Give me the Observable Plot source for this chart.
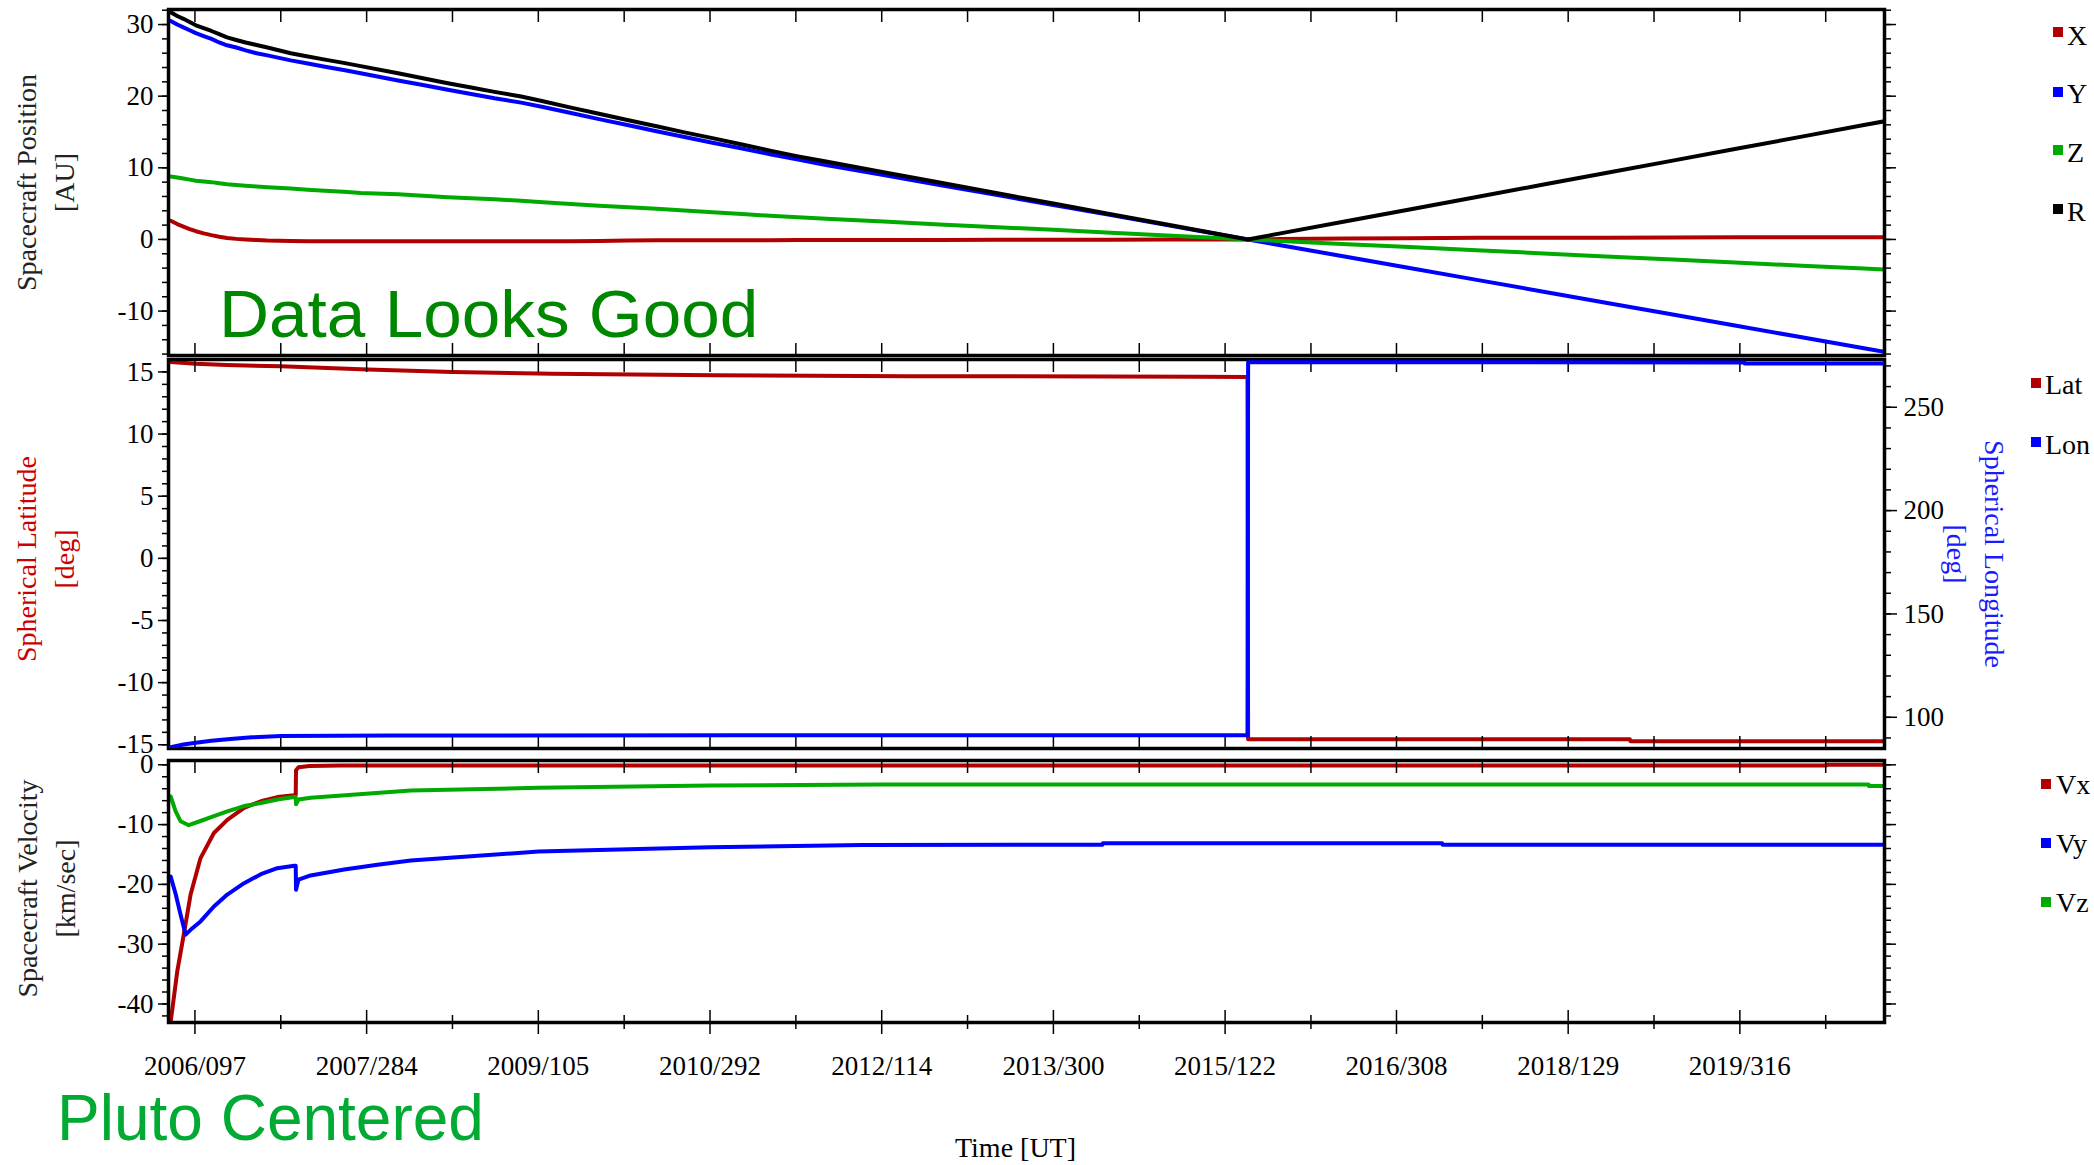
<!DOCTYPE html>
<html>
<head>
<meta charset="utf-8">
<script src="https://cdn.jsdelivr.net/npm/d3@7"></script>
<script src="https://cdn.jsdelivr.net/npm/@observablehq/plot@0.6"></script>
<style>
html, body { margin: 0; padding: 0; background: #fff; }
#chart { position: relative; width: 2094px; height: 1165px; overflow: hidden; font-family: "Liberation Serif", "Times New Roman", serif; }
.panel { position: absolute; left: 0; }
.panel svg { background: transparent !important; overflow: visible; display: block; max-width: none !important; }
.lg { position: absolute; font-size: 28px; line-height: 28px; color: #000; white-space: nowrap; }
.sw { position: absolute; width: 10px; height: 10px; }
.big { position: absolute; font-family: "Liberation Sans", Arial, sans-serif; line-height: 1; white-space: nowrap; transform-origin: left center; }
</style>
</head>
<body>
<div id="chart">
  <div id="p1" class="panel" style="top:0px"></div>
  <div id="p2" class="panel" style="top:356px"></div>
  <div id="p2b" class="panel" style="top:356px"></div>
  <div id="p3" class="panel" style="top:752px"></div>
</div>
<script>
// ---------------- DATA ----------------
// Time axis (UT, YYYY/DOY)
const timeDomain = ["2006/012", "2021/050"];
const timeTickLabels = ["2006/097", "2007/284", "2009/105", "2010/292", "2012/114", "2013/300", "2015/122", "2016/308", "2018/129", "2019/316"];
const timeMinorTicks = ["2007/008", "2008/195", "2010/016", "2011/203", "2013/024", "2014/211", "2016/033", "2017/218", "2019/040", "2020/227"];

// Panel 1: Spacecraft Position [AU]
const positionDates = ["2006/019","2006/040","2006/060","2006/080","2006/100","2006/125","2006/150","2006/175","2006/200","2006/230","2006/260","2006/295","2006/330","2007/040","2007/095","2007/150","2007/210","2007/265",
  "2008/020","2008/100","2008/180","2008/255","2008/330","2009/050","2009/120","2009/210","2009/300","2010/030","2010/120","2010/210","2010/300","2011/030","2011/120","2011/210","2011/300","2012/120",
  "2012/300","2013/120","2013/300","2014/120","2014/300","2015/100","2015/195","2015/300","2016/150","2016/350",
  "2017/200","2018/050","2018/250","2019/100","2019/300","2020/150","2020/350","2021/050"];
const positionX = [2.6, 2.15, 1.8, 1.45, 1.15, 0.85, 0.6, 0.38, 0.2, 0.08, 0.0, -0.08, -0.15, -0.22, -0.24, -0.25, -0.25, -0.25,
  -0.25, -0.25, -0.25, -0.25, -0.25, -0.25, -0.25, -0.24, -0.22, -0.16, -0.12, -0.11, -0.1, -0.1, -0.1, -0.09, -0.08, -0.07,
  -0.06, -0.05, -0.04, -0.03, -0.02, -0.01, 0, 0.05, 0.12, 0.18,
  0.22, 0.24, 0.25, 0.28, 0.3, 0.3, 0.3, 0.3];
const positionY = [30.5, 30.0, 29.6, 29.2, 28.8, 28.4, 28.0, 27.5, 27.1, 26.8, 26.4, 26.0, 25.7, 25.0, 24.55, 24.1, 23.65, 23.2,
  22.2, 21.55, 20.9, 20.3, 19.7, 19.1, 18.5, 17.65, 16.8, 15.95, 15.1, 14.3, 13.5, 12.7, 11.9, 11.15, 10.4, 9.0,
  7.6, 6.2, 4.8, 3.4, 2.0, 0.73, 0, -0.81, -2.45, -3.99,
  -5.64, -7.29, -8.83, -10.47, -12.01, -13.66, -15.2, -15.7];
const positionZ = [8.8, 8.65, 8.5, 8.35, 8.2, 8.1, 8.0, 7.85, 7.7, 7.6, 7.5, 7.4, 7.3, 7.1, 6.95, 6.8, 6.65, 6.5,
  6.3, 6.1, 5.9, 5.75, 5.6, 5.4, 5.2, 4.95, 4.7, 4.5, 4.3, 4.05, 3.8, 3.55, 3.3, 3.1, 2.9, 2.5,
  2.1, 1.7, 1.35, 0.95, 0.56, 0.2, 0, -0.22, -0.66, -1.07,
  -1.51, -1.95, -2.37, -2.8, -3.22, -3.66, -4.07, -4.2];
const positionR = [31.7, 31.2, 30.8, 30.35, 29.9, 29.5, 29.1, 28.65, 28.2, 27.85, 27.5, 27.15, 26.8, 26.0, 25.55, 25.1, 24.65, 24.2,
  23.2, 22.5, 21.8, 21.2, 20.6, 19.95, 19.3, 18.4, 17.55, 16.65, 15.8, 14.95, 14.14, 13.25, 12.4, 11.6, 10.87, 9.38,
  7.94, 6.45, 5.01, 3.53, 2.08, 0.76, 0, 0.85, 2.58, 4.19,
  5.93, 7.66, 9.28, 11.0, 12.62, 14.35, 15.97, 16.5];
const positionTicks = [-10, 0, 10, 20, 30];
const positionDomain = [-16.2, 32.1];

// Panel 2: Spherical Latitude / Longitude [deg]
const latDates = ["2006/019","2006/100","2006/200","2007/008","2007/287","2008/195","2009/149","2010/309","2012/200","2015/048","2015/194","2015/196","2017/001","2018/327","2018/329","2021/050"];
const latValues = [15.8, 15.65, 15.55, 15.45, 15.2, 15.0, 14.86, 14.73, 14.66, 14.62, 14.6, -14.55, -14.55, -14.55, -14.72, -14.72];
const lonDates = ["2006/019","2006/060","2006/100","2006/150","2006/211","2006/280","2007/008","2008/001","2011/001","2015/194","2015/196","2017/001","2019/330","2019/331","2021/050"];
const lonValues = [85.5, 86.8, 87.7, 88.6, 89.5, 90.3, 91.0, 91.2, 91.3, 91.3, 271.8, 271.8, 271.7, 271.2, 271.2];
const latTicks = [-15, -10, -5, 0, 5, 10, 15];
const lonTicks = [100, 150, 200, 250];
const latDomain = [-15.3, 16.0];
const lonDomain = [84.9, 273.1];

// Panel 3: Spacecraft Velocity [km/sec]
const vxDates = ["2006/019","2006/040","2006/061","2006/083","2006/115","2006/158","2006/201","2006/255","2006/309","2006/362","2007/051","2007/056","2007/057","2007/065","2007/100","2007/200","2020/230","2020/231","2021/050"];
const vxValues = [-43.0, -34.6, -28.4, -21.7, -15.6, -11.4, -9.2, -7.2, -6.1, -5.4, -5.1, -5.0, -0.9, -0.4, -0.2, -0.1, -0.1, 0.0, 0.0];
const vyDates = ["2006/019","2006/035","2006/051","2006/067","2006/083","2006/115","2006/158","2006/201","2006/255","2006/309","2006/362","2007/051","2007/056","2007/057","2007/065","2007/104","2007/212","2007/319","2008/061","2009/105","2010/292","2012/050","2014/093","2014/094","2017/089","2017/090","2021/050"];
const vyValues = [-18.7, -21.6, -25.1, -28.4, -27.6, -26.2, -23.7, -21.7, -19.8, -18.3, -17.3, -16.9, -16.9, -20.9, -19.2, -18.5, -17.5, -16.7, -16.0, -14.5, -13.8, -13.4, -13.35, -13.1, -13.1, -13.35, -13.35];
const vzDates = ["2006/019","2006/035","2006/051","2006/077","2006/115","2006/158","2006/201","2006/255","2006/309","2006/362","2007/051","2007/056","2007/057","2007/065","2007/104","2008/061","2009/105","2010/292","2012/114","2020/365","2020/366","2021/050"];
const vzValues = [-5.3, -7.8, -9.45, -10.1, -9.4, -8.6, -7.8, -6.9, -6.4, -5.8, -5.4, -5.4, -6.6, -5.8, -5.5, -4.3, -3.85, -3.45, -3.3, -3.3, -3.55, -3.55];
const velocityTicks = [-40, -30, -20, -10, 0];
const velocityDomain = [-43.1, 0.72];

// Series names / colors
const positionNames = ["X", "Y", "Z", "R"];
const angleNames = ["Lat", "Lon"];
const velocityNames = ["Vx", "Vy", "Vz"];
const RED = "#b00000", BLUE = "#0000ff", GREEN = "#00aa00", BLACK = "#000000";

// ---------------- BUILD ----------------
const parse = d3.utcParse("%Y/%j");
const fmt = d3.utcFormat("%Y/%j");
const rows = (dates, vals) => dates.map((d, i) => ({date: parse(d), v: vals[i]}));
const xDomain = timeDomain.map(parse);
const majorX = timeTickLabels.map(parse);
const minorX = timeMinorTicks.map(parse);
const allX = majorX.concat(minorX);
const numFmt = d => String(d);
const W = 2094, ML = 168, MR = 210;
const FONT = {background: "transparent", overflow: "visible", fontFamily: "'Liberation Serif', 'Times New Roman', serif", fontSize: "27px", color: "black"};

function lineMark(data, color) {
  return Plot.line(data, {x: "date", y: "v", stroke: color, strokeWidth: 4, clip: true});
}
function xTicks(bottomCross) {
  const m = [
    Plot.axisX(allX, {anchor: "top", tickSize: 12, dy: 12, fill: "none", label: null, strokeWidth: 1.5})
  ];
  if (bottomCross) {
    m.push(Plot.axisX(majorX, {anchor: "bottom", tickSize: 24, dy: -12, fill: "none", label: null, strokeWidth: 1.5}));
    m.push(Plot.axisX(minorX, {anchor: "bottom", tickSize: 14, dy: -7, fill: "none", label: null, strokeWidth: 1.5}));
  } else {
    m.push(Plot.axisX(allX, {anchor: "bottom", tickSize: 12, dy: -12, fill: "none", label: null, strokeWidth: 1.5}));
  }
  return m;
}

// Panel 1
const p1 = Plot.plot({
  width: W, height: 360, marginLeft: ML, marginRight: MR, marginTop: 9, marginBottom: 5,
  x: {type: "utc", domain: xDomain},
  y: {domain: positionDomain},
  style: FONT,
  marks: [
    lineMark(rows(positionDates, positionX), RED),
    lineMark(rows(positionDates, positionY), BLUE),
    lineMark(rows(positionDates, positionZ), GREEN),
    lineMark(rows(positionDates, positionR), BLACK),
    Plot.frame({stroke: "black", strokeWidth: 3.5}),
    Plot.axisY(positionTicks, {anchor: "left", tickSize: 10, tickPadding: 5, tickFormat: numFmt, label: null, fontSize: 27, strokeWidth: 1.5}),
    Plot.axisY(d3.range(-16, 33, 2), {anchor: "left", tickSize: 6, fill: "none", label: null, strokeWidth: 1.5}),
    Plot.axisY(positionTicks, {anchor: "right", tickSize: 11, fill: "none", label: null, strokeWidth: 1.5}),
    Plot.axisY(d3.range(-16, 33, 2), {anchor: "right", tickSize: 6, fill: "none", label: null, strokeWidth: 1.5}),
    ...xTicks(false),
    Plot.text(["Spacecraft Position\n[AU]"], {text: d => d, frameAnchor: "left", dx: -126, rotate: -90, fontSize: 28, lineHeight: 1.36, textAnchor: "middle", lineAnchor: "middle", fill: "#222"})
  ]
});
document.getElementById("p1").appendChild(p1);

// Panel 2 (latitude, left axis)
const p2 = Plot.plot({
  width: W, height: 396, marginLeft: ML, marginRight: MR, marginTop: 3, marginBottom: 4,
  x: {type: "utc", domain: xDomain},
  y: {domain: latDomain},
  style: FONT,
  marks: [
    lineMark(rows(latDates, latValues), RED),
    Plot.frame({stroke: "black", strokeWidth: 3.5}),
    Plot.axisY(latTicks, {anchor: "left", tickSize: 10, tickPadding: 5, tickFormat: numFmt, label: null, fontSize: 27, strokeWidth: 1.5}),
    Plot.axisY(d3.range(-15, 16, 1), {anchor: "left", tickSize: 6, fill: "none", label: null, strokeWidth: 1.5}),
    ...xTicks(false),
    Plot.text(["Spherical Latitude\n[deg]"], {text: d => d, frameAnchor: "left", dx: -126, dy: 5, rotate: -90, fontSize: 28, lineHeight: 1.36, textAnchor: "middle", lineAnchor: "middle", fill: "#cc0000"})
  ]
});
document.getElementById("p2").appendChild(p2);

// Panel 2 overlay (longitude, right axis)
const p2b = Plot.plot({
  width: W, height: 396, marginLeft: ML, marginRight: MR, marginTop: 3, marginBottom: 4,
  x: {type: "utc", domain: xDomain, axis: null},
  y: {domain: lonDomain},
  style: FONT,
  marks: [
    lineMark(rows(lonDates, lonValues), BLUE),
    Plot.axisY(lonTicks, {anchor: "right", tickSize: 12, tickPadding: 7, tickFormat: numFmt, label: null, fontSize: 27, strokeWidth: 1.5}),
    Plot.axisY(d3.range(90, 271, 10), {anchor: "right", tickSize: 6, fill: "none", label: null, strokeWidth: 1.5}),
    Plot.text(["Spherical Longitude\n[deg]"], {text: d => d, frameAnchor: "right", dx: 94, rotate: 90, fontSize: 28, lineHeight: 1.36, textAnchor: "middle", lineAnchor: "middle", fill: "#1a1aff"})
  ]
});
document.getElementById("p2b").appendChild(p2b);

// Panel 3
const p3 = Plot.plot({
  width: W, height: 413, marginLeft: ML, marginRight: MR, marginTop: 8, marginBottom: 143,
  x: {type: "utc", domain: xDomain},
  y: {domain: velocityDomain},
  style: FONT,
  marks: [
    lineMark(rows(vxDates, vxValues), RED),
    lineMark(rows(vyDates, vyValues), BLUE),
    lineMark(rows(vzDates, vzValues), GREEN),
    Plot.frame({stroke: "black", strokeWidth: 3.5}),
    Plot.axisY(velocityTicks, {anchor: "left", tickSize: 10, tickPadding: 5, tickFormat: numFmt, label: null, fontSize: 27, strokeWidth: 1.5}),
    Plot.axisY(d3.range(-42, 1, 2), {anchor: "left", tickSize: 6, fill: "none", label: null, strokeWidth: 1.5}),
    Plot.axisY(velocityTicks, {anchor: "right", tickSize: 11, fill: "none", label: null, strokeWidth: 1.5}),
    Plot.axisY(d3.range(-42, 1, 2), {anchor: "right", tickSize: 6, fill: "none", label: null, strokeWidth: 1.5}),
    ...xTicks(true),
    Plot.axisX(majorX, {anchor: "bottom", tickSize: 0, tickPadding: 33, tickFormat: fmt, label: null, fontSize: 27}),
    Plot.text(["Spacecraft Velocity\n[km/sec]"], {text: d => d, frameAnchor: "left", dx: -125, dy: -3, rotate: -90, fontSize: 28, lineHeight: 1.36, textAnchor: "middle", lineAnchor: "middle", fill: "#222"}),
    Plot.text(["Time [UT]"], {text: d => d, frameAnchor: "bottom", dx: -11, dy: 126, fontSize: 28, textAnchor: "middle", lineAnchor: "middle"})
  ]
});
document.getElementById("p3").appendChild(p3);

// ---------------- LEGENDS & LABELS ----------------
const chart = document.getElementById("chart");
function addLegend(names, colors, swLeft, swTops, txtLeft, baselines) {
  names.forEach((n, i) => {
    const s = document.createElement("div");
    s.className = "sw";
    s.style.left = swLeft + "px"; s.style.top = swTops[i] + "px"; s.style.background = colors[i];
    chart.appendChild(s);
    const t = document.createElement("div");
    t.className = "lg";
    t.textContent = n;
    t.style.left = txtLeft + "px"; t.style.top = (baselines[i] - 23.5) + "px";
    chart.appendChild(t);
  });
}
addLegend(positionNames, [RED, BLUE, GREEN, BLACK], 2053, [27, 87, 145, 204], 2067, [45, 103.5, 162.5, 221.5]);
addLegend(angleNames, [RED, BLUE], 2031, [378, 437], 2045, [394, 454]);
addLegend(velocityNames, [RED, BLUE, GREEN], 2041, [779, 838, 897], 2056, [794, 853, 912]);

function addBig(text, left, baseline, size, color, sx) {
  const d = document.createElement("div");
  d.className = "big";
  d.textContent = text;
  d.style.left = left + "px";
  d.style.top = (baseline - 0.8465 * size) + "px";
  d.style.fontSize = size + "px";
  d.style.color = color;
  d.style.transform = "scaleX(" + sx + ")";
  chart.appendChild(d);
}
addBig("Data Looks Good", 219, 336.7, 66, "#008700", 1.05);
addBig("Pluto Centered", 57, 1140, 64, "#00aa33", 1.0);
</script>
</body>
</html>
